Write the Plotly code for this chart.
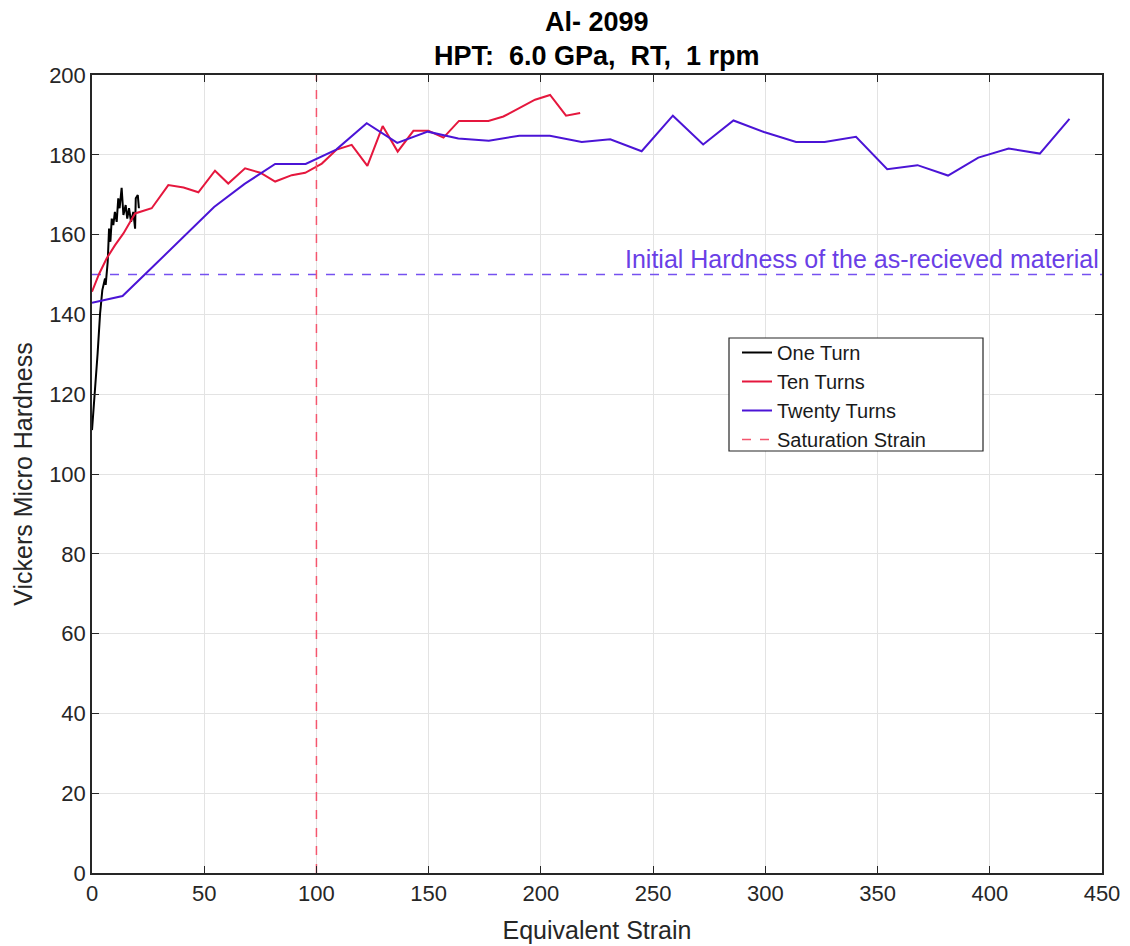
import plotly.graph_objects as go

# ---- data ----
one_x = [0, 1.3, 2.5, 3.6, 4.6, 5.8, 6.1, 7.0, 7.6, 8.2, 8.8, 9.5, 10.2, 11.0, 11.7, 12.3, 13.2,
         14.0, 15.0, 15.7, 16.5, 17.4, 18.4, 19.2, 19.5, 20.4, 20.9]
one_y = [111, 120.2, 130.2, 140.2, 146.1, 149, 147.4, 153.2, 161.5, 158.2, 164, 162.4, 165.7,
         163.2, 169.1, 166.6, 171.7, 164.9, 167.4, 164, 166.6, 163.2, 165.7, 161.5, 169.1, 169.9, 166.6]

ten_x = [0, 3.2, 6.5, 10.2, 14, 19.2, 26.6, 34, 40.8, 47.4, 54.8, 60.7, 68.2, 75, 81.6, 89, 95,
         102.4, 109, 115.7, 122.7, 129.5, 136.2, 143.2, 149.9, 156.6, 163.5, 176.6, 183.3,
         197.4, 204.1, 211.2, 217.5]
ten_y = [145.7, 150.2, 154, 157.3, 160.3, 165.3, 166.6, 172.4, 171.8, 170.6, 176, 172.8, 176.6,
         175.5, 173.3, 174.9, 175.5, 177.8, 181.3, 182.5, 177.2, 187.2, 180.8, 186, 186, 184.3,
         188.5, 188.5, 189.6, 193.8, 195, 189.8, 190.5]

twenty_x = [0, 13.6, 27.2, 40.8, 54.4, 68, 81.6, 95.2, 108.8, 122.4, 136, 149.6, 163.2, 176.8,
            190.4, 204, 218.2, 230.9, 244.9, 258.8, 272.3, 285.8, 299.4, 313.7, 326.4, 340.4,
            354.3, 367.8, 381.4, 394.9, 408.4, 422.3, 435.5]
twenty_y = [142.9, 144.6, 152, 159.5, 166.9, 172.7, 177.7, 177.7, 181.3, 187.9, 183, 185.8,
            184.1, 183.5, 184.8, 184.8, 183.2, 183.9, 180.9, 189.8, 182.6, 188.6, 185.7, 183.2,
            183.2, 184.5, 176.4, 177.4, 174.8, 179.3, 181.6, 180.3, 189]

saturation_strain = 100
initial_hardness = 150
x_range = [0, 450]
y_range = [0, 200]
x_ticks = [0, 50, 100, 150, 200, 250, 300, 350, 400, 450]
y_ticks = [0, 20, 40, 60, 80, 100, 120, 140, 160, 180, 200]

title_lines = ["Al- 2099", "HPT:&nbsp; 6.0 GPa,&nbsp; RT,&nbsp; 1 rpm"]

FONT = "Liberation Sans, Arial, sans-serif"
AX = "#262626"
L, R, T, B = 92, 28, 75, 73
W_PLOT = 1130 - L - R
H_PLOT = 946 - T - B


def px_x(px):
    return (px - L) / W_PLOT


def px_y(py):
    return (946 - B - py) / H_PLOT


fig = go.Figure()
fig.add_trace(go.Scatter(x=[x_range[0], x_range[1]], y=[initial_hardness, initial_hardness],
                         mode="lines", line=dict(color="#7651f0", width=1.5, dash="dash"),
                         showlegend=False, hoverinfo="skip"))
fig.add_trace(go.Scatter(x=one_x, y=one_y, mode="lines", name="One Turn",
                         line=dict(color="#000000", width=2)))
fig.add_trace(go.Scatter(x=ten_x, y=ten_y, mode="lines", name="Ten Turns",
                         line=dict(color="#e5173d", width=2)))
fig.add_trace(go.Scatter(x=twenty_x, y=twenty_y, mode="lines", name="Twenty Turns",
                         line=dict(color="#4b14d6", width=2)))
fig.add_trace(go.Scatter(x=[saturation_strain, saturation_strain], y=[y_range[0], y_range[1]],
                         mode="lines", name="Saturation Strain",
                         line=dict(color="#f4566e", width=1.5, dash="dash")))

fig.add_annotation(x=x_range[1], y=initial_hardness, xref="x", yref="y",
                   text="Initial Hardness of the as-recieved material",
                   showarrow=False, xanchor="right", yanchor="bottom", yshift=0, xshift=-1,
                   font=dict(family=FONT, size=25, color="#6a3fe6"))

# two-line bold title placed above the axes
for line, ypx in zip(title_lines, [22, 56]):
    fig.add_annotation(x=0.5, y=px_y(ypx), xref="paper", yref="paper",
                       text=f"<b>{line}</b>", showarrow=False,
                       xanchor="center", yanchor="middle",
                       font=dict(family=FONT, size=27, color="#000000"))

# legend frame (MATLAB-style box with right padding)
fig.add_shape(type="rect", xref="paper", yref="paper",
              x0=px_x(729), x1=px_x(983), y0=px_y(451), y1=px_y(338),
              line=dict(color=AX, width=1.2), fillcolor="white", layer="above")

axis_common = dict(showline=True, linecolor=AX, linewidth=1.5, mirror="ticks",
                   ticks="inside", ticklen=7, tickcolor=AX, tickwidth=1.2,
                   showgrid=True, gridcolor="#e3e3e3", gridwidth=1, zeroline=False,
                   automargin=False,
                   tickfont=dict(family=FONT, size=22, color=AX))

fig.update_layout(
    width=1130, height=946,
    margin=dict(l=L, r=R, t=T, b=B),
    plot_bgcolor="white", paper_bgcolor="white",
    xaxis=dict(range=x_range, tickvals=x_ticks, **axis_common,
               title=dict(text="Equivalent Strain", standoff=16,
                          font=dict(family=FONT, size=25, color=AX))),
    yaxis=dict(range=y_range, tickvals=y_ticks, **axis_common,
               title=dict(text="Vickers Micro Hardness", standoff=9,
                          font=dict(family=FONT, size=25, color=AX))),
    legend=dict(x=px_x(737), y=px_y(333), xanchor="left", yanchor="top",
                bgcolor="rgba(0,0,0,0)", borderwidth=0,
                font=dict(family=FONT, size=20, color="#1a1a1a"),
                tracegroupgap=0, itemwidth=30),
    showlegend=True,
)

fig.write_html("out.html")
